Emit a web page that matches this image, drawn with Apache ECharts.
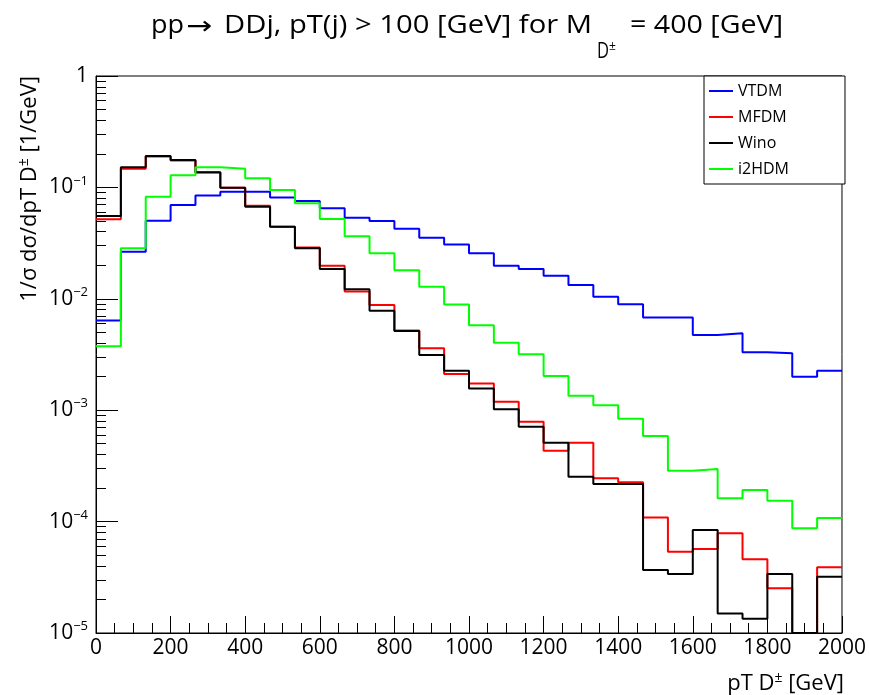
<!DOCTYPE html>
<html>
<head>
<meta charset="utf-8">
<script src="https://cdn.jsdelivr.net/npm/echarts@6/dist/echarts.min.js"></script>
<style>html,body{margin:0;padding:0;background:#fff;}#c{width:869px;height:695px;}</style>
</head>
<body>
<div id="c"></div>
<script>
const FONTNAME = 'Open Sans';
const FONT = "'Open Sans', 'Liberation Sans', Arial, sans-serif";
const ARROWFONT = "'DejaVu Sans', 'Liberation Sans', sans-serif";
const nBins = 30;
const xMin = 0, xMax = 2000;
const binEdges = Array.from({length: nBins + 1}, (_, i) => xMin + i * (xMax - xMin) / nBins);
const xTicks = [0, 200, 400, 600, 800, 1000, 1200, 1400, 1600, 1800, 2000];
const yTickLabels = ['10^-5', '10^-4', '10^-3', '10^-2', '10^-1', '1'];
const seriesNames = ['VTDM', 'MFDM', 'Wino', 'i2HDM'];
const titlePP = 'pp';
const titleArrow = '\u2192';
const titleMain = 'DDj, pT(j) > 100 [GeV] for M';
const titleSub = 'D';
const titleSup = '\u00b1';
const titleEnd = '= 400 [GeV]';

const vtdm = [0.0064, 0.0265, 0.0502, 0.0695, 0.0844, 0.0916, 0.0916, 0.0810, 0.0755, 0.0649,
  0.0534, 0.0499, 0.0426, 0.0353, 0.0308, 0.0256, 0.0198, 0.0185, 0.0161, 0.0133,
  0.01045, 0.00893, 0.00680, 0.00680, 0.00474, 0.00490, 0.00332, 0.00324, 0.00200, 0.00226];
const mfdm = [0.0518, 0.147, 0.189, 0.174, 0.136, 0.0994, 0.0685, 0.0444, 0.0288, 0.0198,
  0.0116, 0.0088, 0.0052, 0.0036, 0.00211, 0.00174, 0.00119, 0.000789, 0.000432, 0.000511,
  0.000245, 0.000225, 0.000109, 5.37e-5, 5.67e-5, 7.85e-5, 4.59e-5, 2.52e-5, 1e-5, 3.89e-5];
const wino = [0.0553, 0.152, 0.191, 0.176, 0.137, 0.0994, 0.0671, 0.0444, 0.0284, 0.0185,
  0.0122, 0.0078, 0.00515, 0.00313, 0.00226, 0.00157, 0.00102, 0.000711, 0.000511, 0.000253,
  0.000218, 0.000218, 3.68e-5, 3.39e-5, 8.41e-5, 1.50e-5, 1.34e-5, 3.39e-5, 1e-5, 3.20e-5];
const i2hdm = [0.00375, 0.0284, 0.0826, 0.1285, 0.152, 0.147, 0.121, 0.0948, 0.0720, 0.0520,
  0.0364, 0.0256, 0.0180, 0.0128, 0.0089, 0.0058, 0.00404, 0.00318, 0.00203, 0.00135,
  0.00111, 0.000839, 0.000587, 0.000286, 0.000296, 0.000162, 0.000192, 0.000154, 8.71e-5, 0.000108];

const colors = ['#0000ff', '#ff0000', '#000000', '#00ff00'];
const allValues = [vtdm, mfdm, wino, i2hdm];

function stepData(vals) {
  const d = vals.map((v, i) => [binEdges[i], v]);
  d.push([binEdges[nBins], vals[nBins - 1]]);
  return d;
}

const majorY = [1e-5, 1e-4, 1e-3, 1e-2, 1e-1, 1];
const minorY = [];
for (let e = -5; e < 0; e++) for (let m = 2; m <= 9; m++) minorY.push(m * Math.pow(10, e));

// text measuring for the title layout
const mctx = document.createElement('canvas').getContext('2d');
function textW(t, font) { mctx.font = font; return mctx.measureText(t).width; }
const TS = 25;
const mainFont = TS + 'px ' + FONT;
const arrowFont = TS + 'px ' + ARROWFONT;
const subFont = '22px ' + FONT;
const ppX0 = 151, ppX1 = 184, arrX0 = 186, arrX1 = 212, mainX0 = 224, mainX1 = 592;
const subX0 = 597, subX1 = 609, supX = 609, endX0 = 630, endX1 = 783;

const chart = echarts.init(document.getElementById('c'), null, {renderer: 'canvas'});
chart.setOption({
  animation: false,
  backgroundColor: '#fff',
  grid: {left: 96, right: 24, top: 76, bottom: 62, show: true, borderColor: '#000', borderWidth: 1, containLabel: false},
  legend: {
    data: seriesNames,
    orient: 'vertical',
    left: 704,
    top: 76,
    icon: 'rect',
    itemWidth: 24,
    itemHeight: 2,
    itemGap: 8,
    padding: [6, 56, 6, 5],
    borderColor: '#000',
    borderWidth: 1,
    backgroundColor: '#fff',
    textStyle: {fontFamily: FONT, fontSize: 16, color: '#000', lineHeight: 18}
  },
  xAxis: {
    type: 'value',
    min: xMin, max: xMax, interval: 200,
    axisLine: {show: true, lineStyle: {color: '#000', width: 1}},
    axisTick: {show: true, inside: true, length: 17, lineStyle: {color: '#000'}},
    minorTick: {show: true, splitNumber: 4, length: 10, lineStyle: {color: '#000'}},
    splitLine: {show: false},
    axisLabel: {color: '#000', fontFamily: FONT, fontSize: 21, margin: 5,
      customValues: xTicks, formatter: v => String(v)}
  },
  yAxis: [{
    type: 'log',
    min: 1e-5, max: 1, logBase: 10,
    axisLine: {show: true, lineStyle: {color: '#000', width: 1}},
    axisTick: {show: true, inside: true, length: 22, lineStyle: {color: '#000'}, customValues: majorY},
    splitLine: {show: false},
    axisLabel: {
      customValues: majorY,
      margin: 8,
      formatter: function (v) {
        const e = Math.round(Math.log10(v));
        if (e === 0) return '{b|1}';
        return '{b|10}{e|\u2212' + (-e) + '}';
      },
      rich: {
        b: {fontFamily: FONT, fontSize: 21, color: '#000', lineHeight: 24},
        e: {fontFamily: FONT, fontSize: 13, color: '#000', lineHeight: 13, padding: [0, 0, 13, 0]}
      }
    }
  }, {
    type: 'log',
    min: 1e-5, max: 1, logBase: 10,
    position: 'left',
    axisLine: {show: false},
    axisTick: {show: true, inside: true, length: 10, lineStyle: {color: '#000'}, customValues: minorY},
    axisLabel: {show: false},
    splitLine: {show: false}
  }],
  series: allValues.map((vals, i) => ({
    name: seriesNames[i],
    type: 'line',
    step: 'end',
    data: stepData(vals),
    showSymbol: false,
    symbol: 'none',
    color: colors[i],
    lineStyle: {color: colors[i], width: 2},
    z: 2 + i
  })),
  graphic: [{
    type: 'text', x: ppX0, y: 26, scaleX: (ppX1 - ppX0) / textW(titlePP, mainFont),
    style: {text: titlePP, font: mainFont, fill: '#000', align: 'left', verticalAlign: 'middle'}
  }, {
    type: 'text', x: arrX0, y: 27, scaleX: (arrX1 - arrX0) / textW(titleArrow, arrowFont),
    style: {text: titleArrow, font: arrowFont, fill: '#000', align: 'left', verticalAlign: 'middle'}
  }, {
    type: 'text', x: mainX0, y: 26, scaleX: (mainX1 - mainX0) / textW(titleMain, mainFont),
    style: {text: titleMain, font: mainFont, fill: '#000', align: 'left', verticalAlign: 'middle'}
  }, {
    type: 'text', x: subX0, y: 52, scaleX: (subX1 - subX0) / textW(titleSub, subFont),
    style: {text: titleSub, font: subFont, fill: '#000', align: 'left', verticalAlign: 'middle'}
  }, {
    type: 'text', x: supX, y: 47,
    style: {text: titleSup, font: '12px ' + FONT, fill: '#000', align: 'left', verticalAlign: 'middle'}
  }, {
    type: 'text', x: endX0, y: 26, scaleX: (endX1 - endX0) / textW(titleEnd, mainFont),
    style: {text: titleEnd, font: mainFont, fill: '#000', align: 'left', verticalAlign: 'middle'}
  }, {
    type: 'text',
    x: 30, y: 76,
    rotation: Math.PI / 2,
    style: {
      text: '{t|1/\u03c3 d\u03c3/dpT D}{u|\u00b1}{t| [1/GeV]}',
      align: 'right',
      verticalAlign: 'middle',
      rich: {
        t: {fontFamily: FONT, fontSize: 22, fill: '#000', lineHeight: 26},
        u: {fontFamily: FONT, fontSize: 14, fill: '#000', lineHeight: 14, padding: [0, 0, 12, 0]}
      }
    }
  }, {
    type: 'text',
    x: 844, y: 684,
    style: {
      text: '{t|pT D}{u|\u00b1}{t| [GeV]}',
      align: 'right',
      verticalAlign: 'middle',
      rich: {
        t: {fontFamily: FONT, fontSize: 22, fill: '#000', lineHeight: 26},
        u: {fontFamily: FONT, fontSize: 14, fill: '#000', lineHeight: 14, padding: [0, 0, 12, 0]}
      }
    }
  }]
});
</script>
</body>
</html>
